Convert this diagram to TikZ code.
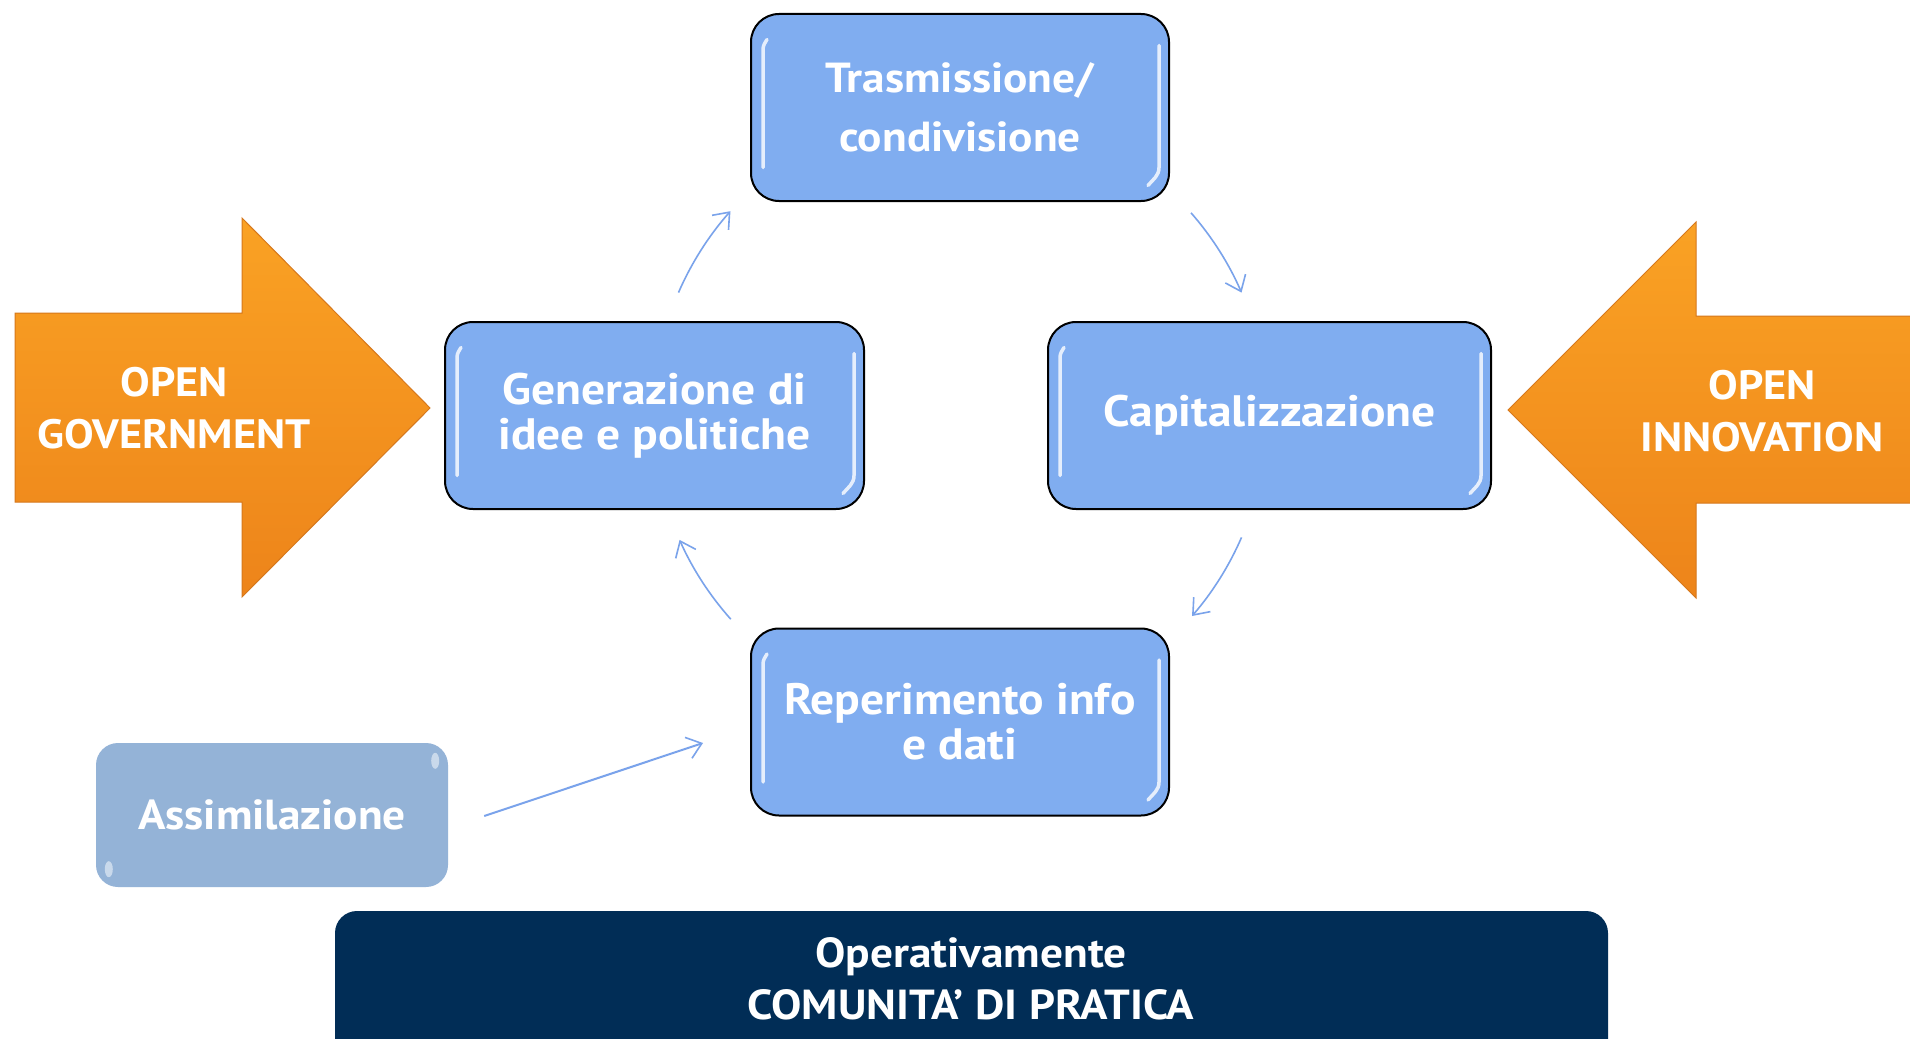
\documentclass[tikz,border=0pt]{standalone}
\usepackage{fontspec}
\setmainfont{PT Sans}[FakeStretch=1.08]
\usetikzlibrary{arrows.meta}
\definecolor{boxblue}{RGB}{128,173,240}
\definecolor{assimblue}{RGB}{148,179,215}
\definecolor{navy}{RGB}{1,45,86}
\definecolor{arrowblue}{RGB}{122,163,235}
\definecolor{orangeTop}{RGB}{250,162,36}
\definecolor{orangeBot}{RGB}{237,132,26}
\definecolor{orangeEdge}{RGB}{214,120,28}
\tikzset{
  stepbox/.style={draw=black, line width=2pt, fill=boxblue, rounded corners=28pt,
    minimum width=418pt, minimum height=187pt, inner sep=0pt, text=white, align=center},
  gloss/.style={white, line width=3.5pt, line cap=round, opacity=0.8},
  cyc/.style={arrowblue, line width=1.6pt, -{Straight Barb[length=14pt,width=22pt,line width=1.6pt]}},
  bigarrow/.style={top color=orangeTop, bottom color=orangeBot, draw=orangeEdge, line width=1pt},
  lbl/.style={text=white, align=center, inner sep=0pt},
}
\newcommand{\bigfont}[2]{\bfseries\fontsize{#1}{#2}\selectfont}
\begin{document}
\begin{tikzpicture}[x=1pt,y=1pt]
\clip (0,0) rectangle (1910,-1038);
\fill[white] (0,0) rectangle (1910,-1038);

% orange arrows
\path[bigarrow] (15,-313) -- (242,-313) -- (242,-218) -- (430,-408) -- (242,-597) -- (242,-502) -- (15,-502) -- cycle;
\path[bigarrow] (1920,-316) -- (1696,-316) -- (1696,-222) -- (1508,-410) -- (1696,-598) -- (1696,-503) -- (1920,-503) -- cycle;
\node[lbl, font=\bigfont{41}{52}] (og) at (174,-408) {OPEN\\GOVERNMENT};
\node[lbl, font=\bigfont{41}{52}] (oi) at (1762,-411) {OPEN\\INNOVATION};

% blue boxes
\node[stepbox, font=\bigfont{42}{59}] (tra) at (960,-107.5) {Trasmissione/\\condivisione};
\node[stepbox, minimum width=419pt, font=\bigfont{44}{45}] (gen) at (654.5,-415.5) {Generazione di\\idee e politiche};
\node[stepbox, minimum width=443pt, font=\bigfont{44}{50}] (cap) at (1269.5,-415.5) {Capitalizzazione};
\node[stepbox, font=\bigfont{44}{45}] (rep) at (960,-722) {Reperimento info\\e dati};

% gloss highlights
\foreach \b in {tra,gen,cap,rep}{
  \draw[gloss] ([shift={(13,-60)}]\b.west) -- ([shift={(13,58)}]\b.west) to[out=90,in=-120] ([shift={(17,68)}]\b.west);
  \draw[gloss] ([shift={(-11,62)}]\b.east) -- ([shift={(-11,-60)}]\b.east) to[out=-90,in=50] ([shift={(-22,-78)}]\b.east);
}

% assimilazione
\node[fill=assimblue, rounded corners=22pt, minimum width=352pt, minimum height=144pt,
      inner sep=0pt, text=white, font=\bigfont{42}{50}] (ass) at (272,-815) {Assimilazione};
\fill[white, opacity=0.5] ([shift={(-13,-18)}]ass.north east) ellipse (4pt and 8pt);
\fill[white, opacity=0.5] ([shift={(13,18)}]ass.south west) ellipse (4pt and 8pt);

% cycle arrows
\coordinate (c) at (960,-415);
\path (c) ++(156.5:307) coordinate (a1);
\path (c) ++(41.2:307) coordinate (a2);
\path (c) ++(-23.5:307) coordinate (a3);
\path (c) ++(-138.3:307) coordinate (a4);
\draw[cyc] (a1) arc[start angle=156.5, end angle=138.4, radius=307];
\draw[cyc] (a2) arc[start angle=41.2, end angle=23.5, radius=307];
\draw[cyc] (a3) arc[start angle=-23.5, end angle=-40.9, radius=307];
\draw[cyc] (a4) arc[start angle=-138.3, end angle=-156, radius=307];

% assimilazione arrow
\coordinate (as0) at ([xshift=36pt,yshift=-1pt]ass.east);
\coordinate (as1) at ([shift={(-47,-21)}]rep.west);
\draw[cyc, line width=2pt] (as0) -- (as1);

% bottom bar
\node[fill=navy, rounded corners=22pt, minimum width=1273pt, minimum height=170pt, inner sep=0pt] (bar) at (971.5,-996) {};
\node[lbl, font=\bigfont{42}{52}] (opt) at (971,-979) {Operativamente\\COMUNITA’ DI PRATICA};
\end{tikzpicture}
\end{document}
